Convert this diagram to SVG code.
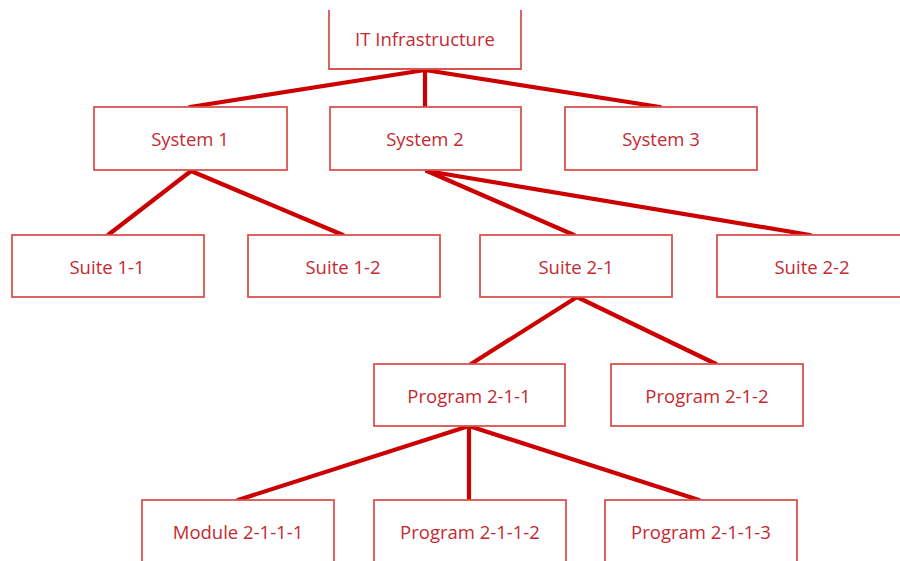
<svg xmlns="http://www.w3.org/2000/svg" width="900" height="561" viewBox="0 0 900 561">
<style>
.box{fill:#fff;stroke:#d9534f;stroke-width:1.8}
.lbl{font-family:"Open Sans","Liberation Sans",sans-serif;font-size:18.5px;fill:#c42a32;text-anchor:middle;dominant-baseline:central}
.conn line{stroke:#cc0000;stroke-width:4.2;stroke-linecap:round}
</style>
<rect width="900" height="561" fill="#fff"/>
<g class="conn" id="connectors">
<line x1="425" y1="70" x2="190" y2="107"/>
<line x1="425" y1="70" x2="425" y2="107"/>
<line x1="425" y1="70" x2="660" y2="107"/>
<line x1="191" y1="171" x2="108" y2="235"/>
<line x1="191" y1="171" x2="343" y2="235"/>
<line x1="427" y1="171" x2="574" y2="235"/>
<line x1="427" y1="171" x2="810" y2="235"/>
<line x1="577" y1="297" x2="471" y2="364"/>
<line x1="577" y1="297" x2="716" y2="364"/>
<line x1="469" y1="426" x2="238" y2="500"/>
<line x1="469" y1="426" x2="469" y2="500"/>
<line x1="469" y1="426" x2="699" y2="500"/>
</g>
<g id="it"><path class="box" d="M329,10 V69 H521 V10"/><text class="lbl" x="425" y="38">IT Infrastructure</text></g>
<g id="sys1"><rect class="box" x="94" y="107" width="193" height="63"/><text class="lbl" x="190" y="138">System 1</text></g>
<g id="sys2"><rect class="box" x="330" y="107" width="191" height="63"/><text class="lbl" x="425" y="138">System 2</text></g>
<g id="sys3"><rect class="box" x="565" y="107" width="192" height="63"/><text class="lbl" x="661" y="138">System 3</text></g>
<g id="s11"><rect class="box" x="12" y="235" width="192" height="62"/><text class="lbl" x="107" y="266">Suite 1-1</text></g>
<g id="s12"><rect class="box" x="248" y="235" width="192" height="62"/><text class="lbl" x="343" y="266">Suite 1-2</text></g>
<g id="s21"><rect class="box" x="480" y="235" width="192" height="62"/><text class="lbl" x="576" y="266">Suite 2-1</text></g>
<g id="s22"><rect class="box" x="717" y="235" width="192" height="62"/><text class="lbl" x="812" y="266">Suite 2-2</text></g>
<g id="p211"><rect class="box" x="374" y="364" width="191" height="62"/><text class="lbl" x="469" y="395">Program 2-1-1</text></g>
<g id="p212"><rect class="box" x="611" y="364" width="192" height="62"/><text class="lbl" x="707" y="395">Program 2-1-2</text></g>
<g id="m2111"><rect class="box" x="142" y="500" width="192" height="70"/><text class="lbl" x="238" y="531">Module 2-1-1-1</text></g>
<g id="p2112"><rect class="box" x="374" y="500" width="192" height="70"/><text class="lbl" x="470" y="531">Program 2-1-1-2</text></g>
<g id="p2113"><rect class="box" x="605" y="500" width="192" height="70"/><text class="lbl" x="701" y="531">Program 2-1-1-3</text></g>
</svg>
